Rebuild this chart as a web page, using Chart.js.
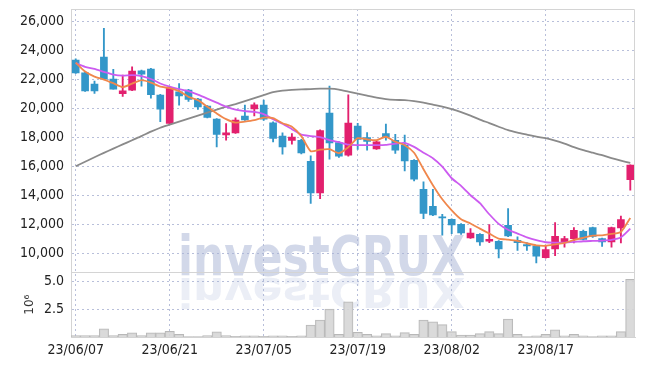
<!DOCTYPE html>
<html>
<head>
<meta charset="utf-8">
<script src="https://cdn.jsdelivr.net/npm/chart.js@4.4.1/dist/chart.umd.min.js"></script>
<style>
    body { margin: 0; background: #fff; }
    canvas { display: block; }
</style>
</head>
<body>
<canvas id="chart" width="645" height="366"></canvas>
<script>
const dates = [
    '23/06/07', '23/06/08', '23/06/09', '23/06/12', '23/06/13', '23/06/14', '23/06/15', '23/06/16', '23/06/19', '23/06/20',
    '23/06/21', '23/06/22', '23/06/23', '23/06/26', '23/06/27', '23/06/28', '23/06/29', '23/06/30', '23/07/03', '23/07/04',
    '23/07/05', '23/07/06', '23/07/07', '23/07/10', '23/07/11', '23/07/12', '23/07/13', '23/07/14', '23/07/17', '23/07/18',
    '23/07/19', '23/07/20', '23/07/21', '23/07/24', '23/07/25', '23/07/26', '23/07/27', '23/07/28', '23/07/31', '23/08/01',
    '23/08/02', '23/08/03', '23/08/04', '23/08/07', '23/08/08', '23/08/09', '23/08/10', '23/08/11', '23/08/14', '23/08/16',
    '23/08/17', '23/08/18', '23/08/21', '23/08/22', '23/08/23', '23/08/24', '23/08/25', '23/08/28', '23/08/29', '23/08/30',
];
const shownDates = ['23/06/07', '23/06/21', '23/07/05', '23/07/19', '23/08/02', '23/08/17'];

const opens = [
    23310, 22430, 21650, 23520, 22000, 20990, 21240, 22570, 22690, 20900,
    18940, 21120, 21240, 20620, 20140, 19240, 18160, 18300, 19450, 19950,
    20210, 18990, 18070, 17770, 17790, 16340, 14160, 19660, 17630, 16760,
    18760, 17980, 17190, 18250, 17790, 17450, 16410, 14410, 13240, 12520,
    12340, 12000, 11060, 11310, 10830, 10830, 11930, 10900, 10600, 10500,
    9700, 10300, 10780, 11010, 11520, 11770, 11010, 10780, 11740, 15080,
];
const highs = [
    23400, 22480, 21860, 25500, 22670, 22280, 22850, 22620, 22750, 20950,
    21470, 21700, 21300, 20680, 20180, 19280, 18940, 19330, 20210, 20370,
    20550, 19050, 18300, 18250, 17850, 16710, 18500, 21520, 17700, 20920,
    18950, 18320, 17750, 18900, 18190, 18140, 16450, 14920, 14410, 12680,
    12380, 12050, 11700, 11350, 11980, 10870, 13080, 11130, 10740, 10540,
    10480, 12120, 11170, 11770, 11600, 11800, 11050, 11800, 12570, 16100,
];
const lows = [
    22400, 21150, 21010, 21980, 21300, 20810, 21200, 21520, 20690, 19060,
    18900, 20210, 20460, 19910, 19330, 17330, 17790, 18250, 19150, 19470,
    19150, 17680, 16830, 17520, 16850, 13430, 13770, 16480, 16600, 16690,
    17150, 17100, 17150, 17790, 16880, 15680, 14980, 12390, 12600, 11240,
    11360, 11300, 11020, 10550, 10740, 9680, 11150, 10190, 10190, 9330,
    9660, 9840, 10430, 10710, 10920, 11100, 10480, 10430, 10710, 14340,
];
const closes = [
    22430, 21190, 21190, 22000, 21310, 21190, 22550, 22340, 20920, 19930,
    21360, 20850, 20600, 20090, 19360, 18190, 18300, 19170, 19190, 20230,
    19240, 17910, 17330, 18000, 16920, 14160, 18460, 17610, 16690, 18970,
    17850, 17700, 17680, 17980, 17100, 16370, 15100, 12740, 12640, 12440,
    11950, 11400, 11400, 10780, 10970, 10300, 11190, 10740, 10500, 9810,
    10250, 11170, 11010, 11590, 10950, 11170, 10780, 11770, 12320, 16070,
];

// moving average lines
const ma5 = [
    23140, 22520, 22170, 21970, 21720, 21450, 21690, 21930, 21760, 21480,
    21380, 21170, 20780, 20550, 20100, 19630, 19240, 19000, 19070, 19170,
    19340, 19310, 18960, 18720, 18070, 17030, 17140, 17170, 16900, 17310,
    17930, 17840, 17790, 18030, 17690, 17450, 16930, 15790, 14690, 13720,
    12960, 12340, 12050, 11700, 11360, 11010, 10940, 10850, 10690, 10550,
    10520, 10610, 10710, 10920, 11070, 11210, 11240, 11330, 11470, 12430,
];
const ma20 = [
    23100, 22850, 22700, 22500, 22310, 22240, 22280, 22210, 22010, 21700,
    21480, 21310, 21170, 20930, 20660, 20380, 20100, 19900, 19790, 19740,
    19590, 19240, 18930, 18550, 18170, 18070, 18000, 17790, 17650, 17480,
    17450, 17450, 17450, 17470, 17550, 17610, 17330, 16930, 16550, 15970,
    15170, 14650, 14000, 13450, 12690, 12030, 11620, 11360, 11100, 10900,
    10760, 10740, 10740, 10780, 10830, 10850, 10870, 10920, 11100, 11700,
];
const ma60 = [
    16000, 16310, 16620, 16920, 17210, 17500, 17790, 18070, 18380, 18650,
    18860, 19070, 19280, 19480, 19690, 19900, 20100, 20280, 20480, 20690,
    20900, 21100, 21210, 21260, 21290, 21310, 21340, 21340, 21280, 21140,
    21000, 20860, 20720, 20620, 20570, 20550, 20480, 20380, 20240, 20100,
    19930, 19720, 19480, 19210, 18970, 18720, 18480, 18310, 18170, 18030,
    17930, 17760, 17550, 17310, 17100, 16930, 16760, 16550, 16380, 16230,
];

const volumes = [
    0.15, 0.15, 0.15, 0.74, 0.15, 0.25, 0.38, 0.15, 0.38, 0.38,
    0.53, 0.25, 0.05, 0.05, 0.15, 0.47, 0.15, 0.08, 0.12, 0.12,
    0.08, 0.12, 0.12, 0.08, 0.12, 1.09, 1.53, 2.5, 0.25, 3.15,
    0.44, 0.25, 0.12, 0.32, 0.12, 0.41, 0.25, 1.53, 1.38, 1.12,
    0.5, 0.2, 0.2, 0.32, 0.5, 0.32, 1.62, 0.25, 0.05, 0.12,
    0.25, 0.65, 0.12, 0.25, 0.12, 0.05, 0.12, 0.12, 0.5, 5.15,
].map((v) => v * 1e6);

const priceTicks = [10000, 12000, 14000, 16000, 18000, 20000, 22000, 24000, 26000];
const volumeTicks = [2.5e6, 5e6];

const UP = '#e2206e';
const DOWN = '#3397c9';
const GRID = 'rgba(160,170,205,0.75)';
const FRAME = '#d4d4d4';
const FONT = "'Liberation Sans Narrow', 'DejaVu Sans Condensed', 'Roboto', sans-serif";

const candleColors = opens.map((o, i) => (closes[i] >= o ? UP : DOWN));

// big watermark with its reflection, behind the data
const watermark = {
    id: 'watermark',
    beforeDatasetsDraw(chart) {
        const ctx = chart.ctx;
        const text = 'investCRUX';
        ctx.save();
        ctx.font = 'bold 56px ' + FONT;
        const sx = 287 / ctx.measureText(text).width;
        ctx.fillStyle = 'rgba(165,177,212,0.5)';
        ctx.translate(178, 275);
        ctx.save();
        ctx.scale(sx, 1);
        ctx.fillText(text, 0, 0);
        ctx.restore();
        ctx.scale(sx, -0.72);
        ctx.translate(0, -4);
        ctx.fillStyle = 'rgba(165,177,212,0.22)';
        ctx.fillText(text, 0, 0);
        ctx.restore();
    },
};

// top / right frame and the line between price and volume panels
const frame = {
    id: 'frame',
    afterDatasetsDraw(chart) {
        const { ctx, chartArea } = chart;
        const yv = chart.scales.yv;
        ctx.save();
        ctx.strokeStyle = FRAME;
        ctx.lineWidth = 1;
        ctx.beginPath();
        ctx.moveTo(chartArea.left, chartArea.top + 0.5);
        ctx.lineTo(chartArea.right - 0.5, chartArea.top + 0.5);
        ctx.lineTo(chartArea.right - 0.5, chartArea.bottom);
        ctx.moveTo(chartArea.left, Math.round(yv.top) + 0.5);
        ctx.lineTo(chartArea.right, Math.round(yv.top) + 0.5);
        ctx.stroke();
        ctx.restore();
    },
};

const fixAxis = (s) => {
    s.width = 64;
    s.paddingTop = 0;
    s.paddingBottom = 0;
};

const ctx = document.getElementById('chart').getContext('2d');
new Chart(ctx, {
    type: 'bar',
    data: {
        labels: dates,
        datasets: [
            {
                type: 'line', label: 'MA5', data: ma5, yAxisID: 'y',
                borderColor: '#f0874c', borderWidth: 1.8, pointRadius: 0, tension: 0.2, order: 0,
            },
            {
                type: 'line', label: 'MA20', data: ma20, yAxisID: 'y',
                borderColor: '#cc5bf0', borderWidth: 1.8, pointRadius: 0, tension: 0.2, order: 0,
            },
            {
                type: 'line', label: 'MA60', data: ma60, yAxisID: 'y',
                borderColor: '#8a8a8a', borderWidth: 1.8, pointRadius: 0, tension: 0.2, order: 0,
            },
            {
                label: 'body', data: opens.map((o, i) => [o, closes[i]]), yAxisID: 'y',
                backgroundColor: candleColors, barThickness: 7, minBarLength: 1, grouped: false, order: 1,
            },
            {
                label: 'wick', data: lows.map((l, i) => [l, highs[i]]), yAxisID: 'y',
                backgroundColor: candleColors, barThickness: 1.2, grouped: false, order: 2,
            },
            {
                label: 'volume', data: volumes, yAxisID: 'yv',
                backgroundColor: 'rgba(214,214,214,0.9)', borderColor: '#b8b8b8', borderWidth: 1,
                barPercentage: 1, categoryPercentage: 1, grouped: false, order: 3,
            },
        ],
    },
    options: {
        responsive: false,
        animation: false,
        layout: { padding: { left: 7, right: 10, top: 9, bottom: 2 } },
        plugins: { legend: { display: false }, tooltip: { enabled: false } },
        scales: {
            x: {
                grid: {
                    offset: false,
                    drawTicks: false,
                    color: (c) => (shownDates.includes(dates[c.index]) ? GRID : 'rgba(0,0,0,0)'),
                },
                border: { color: FRAME, dash: [2, 3] },
                ticks: {
                    autoSkip: false,
                    maxRotation: 0,
                    padding: 5,
                    color: '#222',
                    font: { family: FONT, size: 14 },
                    callback: (v, i) => (shownDates.includes(dates[i]) ? dates[i] : ''),
                },
            },
            // volume panel first: left-side stacks are laid out in reverse order
            yv: {
                position: 'left',
                stack: 'panels',
                stackWeight: 65,
                min: 0,
                max: 5.8e6,
                afterBuildTicks: (s) => { s.ticks = volumeTicks.map((v) => ({ value: v })); },
                afterFit: fixAxis,
                grid: { drawTicks: false, color: GRID },
                border: { color: FRAME, dash: [2, 3] },
                title: {
                    display: true,
                    text: '10⁶',
                    color: '#333',
                    padding: { top: 16, bottom: 0 },
                    font: { family: "'DejaVu Sans', sans-serif", size: 12 },
                },
                ticks: {
                    autoSkip: false,
                    padding: 7,
                    color: '#222',
                    font: { family: FONT, size: 14 },
                    callback: (v) => (v / 1e6).toFixed(1),
                },
            },
            y: {
                position: 'left',
                stack: 'panels',
                stackWeight: 263,
                min: 8700,
                max: 26830,
                afterBuildTicks: (s) => { s.ticks = priceTicks.map((v) => ({ value: v })); },
                afterFit: fixAxis,
                grid: { drawTicks: false, color: GRID },
                border: { color: FRAME, dash: [2, 3] },
                ticks: {
                    autoSkip: false,
                    padding: 7,
                    color: '#222',
                    font: { family: FONT, size: 14 },
                    callback: (v) => v.toLocaleString('en-US'),
                },
            },
        },
    },
    plugins: [watermark, frame],
});
</script>
</body>
</html>
